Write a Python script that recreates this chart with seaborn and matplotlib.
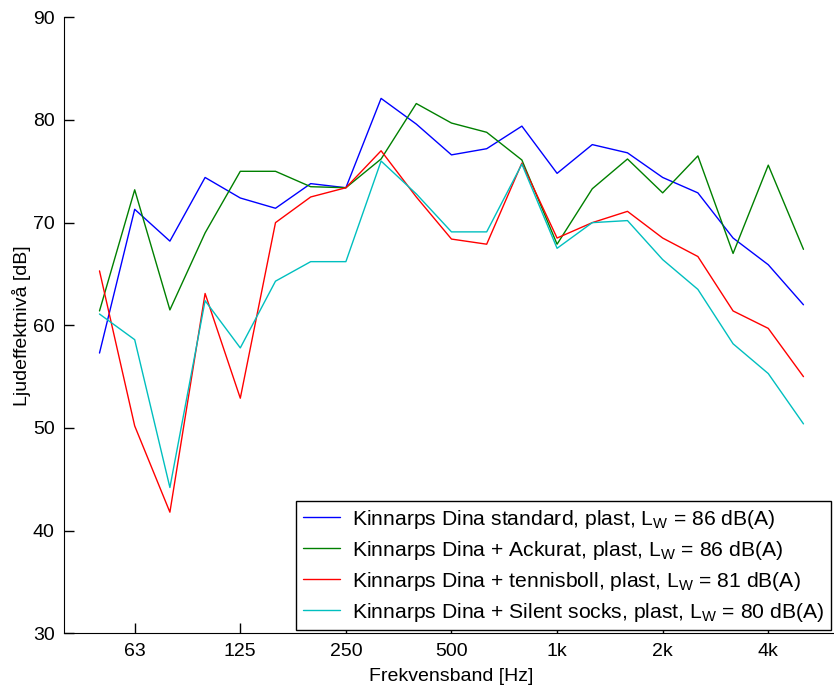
import numpy as np
import pandas as pd
import matplotlib
matplotlib.use('Agg')
import matplotlib.pyplot as plt
import seaborn as sns

# third-octave bands 50 Hz .. 5 kHz
bands = ['50', '63', '80', '100', '125', '160', '200', '250', '315', '400', '500',
         '630', '800', '1k', '1.25k', '1.6k', '2k', '2.5k', '3.15k', '4k', '5k']
tick_bands = ['63', '125', '250', '500', '1k', '2k', '4k']

standard = [57.3, 71.3, 68.2, 74.4, 72.4, 71.4, 73.8, 73.4, 82.1, 79.6, 76.6,
            77.2, 79.4, 74.8, 77.6, 76.8, 74.4, 72.9, 68.5, 65.9, 62.0]
ackurat = [61.4, 73.2, 61.5, 69.0, 75.0, 75.0, 73.5, 73.4, 76.2, 81.6, 79.7,
           78.8, 76.1, 67.9, 73.3, 76.2, 72.9, 76.5, 67.0, 75.6, 67.4]
tennisboll = [65.3, 50.2, 41.8, 63.1, 52.9, 70.0, 72.5, 73.4, 77.0, 72.5, 68.4,
              67.9, 75.8, 68.5, 70.0, 71.1, 68.5, 66.7, 61.4, 59.7, 55.0]
silent = [61.1, 58.6, 44.2, 62.4, 57.8, 64.3, 66.2, 66.2, 76.0, 72.8, 69.1,
          69.1, 75.7, 67.5, 70.0, 70.2, 66.4, 63.5, 58.2, 55.3, 50.4]

labels = [r'Kinnarps Dina standard, plast, L$_{\rm W}$ = 86 dB(A)',
          r'Kinnarps Dina + Ackurat, plast, L$_{\rm W}$ = 86 dB(A)',
          r'Kinnarps Dina + tennisboll, plast, L$_{\rm W}$ = 81 dB(A)',
          r'Kinnarps Dina + Silent socks, plast, L$_{\rm W}$ = 80 dB(A)']
colors = ['#0000ff', '#008000', '#ff0000', '#00bfbf']

sns.set_style('ticks')
plt.rcParams['font.family'] = ['Liberation Sans', 'DejaVu Sans']
plt.rcParams['mathtext.fontset'] = 'custom'
plt.rcParams['mathtext.rm'] = 'Liberation Sans'
for k in ['text.color', 'axes.labelcolor', 'xtick.color', 'ytick.color', 'axes.edgecolor']:
    plt.rcParams[k] = 'black'

pos = np.arange(1, len(bands) + 1)
rows = []
for lab, vals in zip(labels, [standard, ackurat, tennisboll, silent]):
    for p, v in zip(pos, vals):
        rows.append({'pos': p, 'niva': v, 'serie': lab})
df = pd.DataFrame(rows)

fig = plt.figure(figsize=(8.34, 6.89), dpi=100)
ax = fig.add_axes([0.0771, 0.0808, 0.9285, 0.8941])
sns.lineplot(data=df, x='pos', y='niva', hue='serie', palette=colors,
             linewidth=1.0, ax=ax)

ax.set_xlim(0, 22)
ax.set_ylim(30, 90)
ax.set_yticks(np.arange(30, 91, 10))
ax.set_xticks([pos[bands.index(b)] for b in tick_bands])
ax.set_xticklabels(tick_bands)
ax.tick_params(direction='in', length=7, width=1, labelsize=14, pad=7)
ax.spines['top'].set_visible(False)
ax.spines['right'].set_visible(False)
ax.set_xlabel('Frekvensband [Hz]', fontsize=14, labelpad=6)
ax.set_ylabel('Ljudeffektnivå [dB]', fontsize=14, labelpad=1)

leg = ax.legend(loc='lower right', bbox_to_anchor=(831 / 834, (689 - 630) / 689),
                bbox_transform=fig.transFigure, borderaxespad=0, fontsize=15.2,
                frameon=True, fancybox=False, edgecolor='black', framealpha=1,
                handlelength=1.75, handletextpad=0.6, labelspacing=0.38,
                borderpad=0.3, title=None)
leg.get_frame().set_linewidth(1.0)

fig.savefig('out.png', dpi=100)
